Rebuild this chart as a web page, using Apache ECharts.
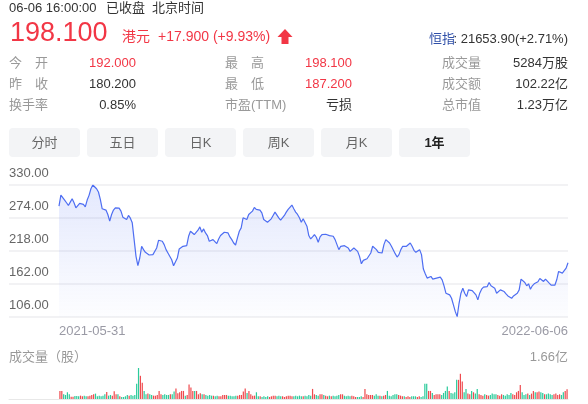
<!DOCTYPE html>
<html>
<head>
<meta charset="utf-8">
<script src="https://cdn.jsdelivr.net/npm/echarts@6/dist/echarts.min.js"></script>
<style>
  html, body { margin: 0; padding: 0; background: #fff; }
  #main { width: 588px; height: 404px; }
</style>
</head>
<body>
<div id="main"></div>
<script>
// 首尾日期
const dates = ['2021-05-31', '2022-06-06']
// 价格刻度
const yTicks = [106, 162, 218, 274, 330]
// 收盘价 (港元)
const prices = [
  294.2, 312.9, 310.1, 304.4, 299.9, 295.3, 301.0, 306.7, 299.9, 291.3, 289.6, 298.7, 301.0, 297.0, 293.0, 304.4,
  312.4, 323.7, 330.0, 327.2, 323.7, 318.1, 305.6, 289.6, 287.4, 287.4, 280.0, 268.6, 280.0, 287.4, 291.3, 289.6,
  290.8, 285.7, 275.4, 274.3, 271.4, 278.3, 273.7, 265.8, 237.3, 208.9, 193.0, 206.1, 226.0, 220.3, 215.7, 215.7,
  211.2, 210.0, 211.8, 213.5, 223.1, 236.2, 237.3, 234.5, 228.8, 220.3, 214.6, 215.7, 203.2, 193.0, 194.7, 206.1,
  221.4, 224.3, 226.0, 224.8, 227.1, 243.0, 251.5, 253.3, 245.9, 245.9, 253.3, 258.9, 249.8, 255.5, 248.7, 244.2,
  234.5, 232.8, 237.3, 235.6, 230.5, 238.5, 244.2, 247.0,
  249.8, 251.5, 248.7, 241.9, 237.3, 231.6, 228.2, 240.2, 251.5, 257.2, 274.3, 276.0, 271.4, 280.0, 282.8, 285.7,
  291.9, 288.5, 287.4, 287.4, 282.8, 271.4, 270.3, 266.9, 268.6, 272.6, 278.3, 284.0, 282.8, 274.3, 270.3, 272.6,
  278.3, 284.0, 288.5, 291.3, 295.9, 289.6, 284.0, 280.0, 274.3, 266.9, 272.6, 270.3, 260.1, 244.2, 238.5, 241.9,
  245.9, 241.3, 232.8, 241.9, 245.9, 244.2, 246.4, 247.6, 244.2, 245.9, 243.0, 237.3, 228.8, 220.3, 226.0, 228.8,
  227.1, 226.0, 223.1, 217.4, 220.3, 223.1, 223.1, 217.4, 208.9, 196.4, 202.1, 203.2, 204.9, 206.6, 214.6, 226.0,
  223.1, 220.3, 215.7, 215.7, 214.6, 228.8, 237.3, 236.2, 231.6, 226.0, 223.1,
  213.5, 207.8, 211.8, 220.3, 226.0, 224.3, 226.0, 228.8, 231.6, 226.0, 219.1, 215.7, 217.4, 220.3, 211.8, 187.3,
  179.3, 172.0, 173.7, 174.8, 170.3, 170.3, 172.0, 173.1, 173.7, 169.1, 158.9, 146.4, 143.5, 143.5, 137.8, 126.5,
  115.1, 106.6, 129.3, 146.4, 154.9, 146.4, 140.7, 152.1, 154.9, 150.9, 152.1, 143.5, 135.0, 146.4, 153.2, 156.6,
  154.9, 157.7, 164.6, 158.9, 157.7, 154.9, 146.4, 147.5, 152.1, 153.2, 149.2, 145.2, 141.8, 139.6, 137.8, 141.8,
  143.5, 146.4, 152.1, 170.3, 168.0, 164.6, 158.9, 162.3, 153.2, 158.9, 162.3, 160.6, 165.7, 171.4, 169.1, 166.3,
  170.3, 168.0, 163.4, 160.0, 158.9, 160.0, 169.1, 183.3, 186.2, 180.5, 179.3, 189.0, 198.1
]
// 成交量 (万股)
const volumes = [
  4320, 4320, 2520, 2160, 3600, 2520, 1260, 1260, 1620, 1620, 1440, 1800, 1440, 1800, 1440, 1440,
  1800, 2160, 2520, 2880, 1440, 1800, 1440, 1800, 2520, 3780, 1800, 2160, 1800, 4140, 2520, 2520,
  1440, 1080, 1080, 1440, 2160, 1800, 2160, 1800, 2160, 8100, 16600, 12420, 8640, 4320, 2520, 2880,
  2520, 2160, 1800, 1800, 2160, 4320, 2520, 2160, 2520, 2160, 2160, 2520, 2520, 3960, 5580, 3060,
  3600, 4320, 4320, 1800, 2160, 7740, 6120, 4320, 4320, 4320, 2520, 3060, 2520, 2520, 2160, 1800,
  2160, 1800, 1800, 1440, 1800, 1440, 1440, 2160, 2160, 2160, 1800, 1800, 1440, 1440, 1800, 1800,
  2160, 2160, 3960, 5580, 3240, 4320, 2520, 1800, 1800, 3600, 1440, 1440, 1080, 1440, 1080, 1440,
  1080, 1440, 1800, 1800, 1440, 1800, 1440, 1440, 1080, 1440, 1800, 1800, 1440, 1440, 1800, 1440,
  1800, 1440, 1440, 1800, 1440, 2160, 1800, 5400, 2520, 2160, 1800, 2520, 2520, 2160, 1800, 1440,
  1800, 1440, 1800, 1440, 1800, 2160, 2520, 2520, 1800, 1440, 1800, 1440, 1800, 1440, 1080, 1080,
  1080, 1440, 1080, 5400, 2520, 2160, 2160, 2160, 1800, 2520, 1800, 1800, 1440, 1800, 2160, 4320,
  1800, 1440, 2160, 2520, 2520, 2160, 1800, 1440, 1440, 1080, 1440, 1080, 1440, 1440, 1440, 1080,
  1440, 1080, 1440, 8100, 8100, 4320, 4320, 3240, 2160, 2520, 2520, 2520, 2160, 3240, 4320, 6660,
  4320, 3240, 2880, 3600, 10260, 10260, 13500, 9360, 3600, 5400, 2880, 2520, 4320, 3600, 2880, 5400,
  2520, 2160, 1800, 2520, 2160, 1800, 2160, 2880, 2520, 2520, 2160, 1800, 2520, 2160, 1800, 2520,
  2160, 3240, 2520, 2160, 3600, 4320, 7560, 3600, 2160, 2520, 2880, 2160, 2880, 4320, 3600, 3600,
  3960, 3600, 3240, 2520, 2520, 2880, 2520, 2160, 2520, 2880, 2160, 2520, 2160, 3600, 4320, 5284
]

const FONT = "'Liberation Sans', 'Noto Sans CJK SC', sans-serif"
const RED = '#f23645'
const UP = '#ef4b4f'
const DOWN = '#2ccb9b'
const GREY = '#999'
const DARK = '#333'

// 文字
function txt (x, y, text, color, size, align, weight) {
  return {
    type: 'text',
    style: {
      x: x,
      y: y,
      text: text,
      fill: color,
      font: (weight || 'normal') + ' ' + size + 'px ' + FONT,
      textAlign: align || 'left',
      textVerticalAlign: 'middle'
    }
  }
}

let graphics = [
  txt(9, 8, '06-06 16:00:00', DARK, 13),
  txt(106, 8, '已收盘', DARK, 13),
  txt(152, 8, '北京时间', DARK, 13),
  txt(10, 34, '198.100', RED, 27),
  txt(122, 37, '港元', RED, 14),
  txt(158, 37, '+17.900 (+9.93%)', RED, 14),
  {
    type: 'polygon',
    shape: { points: [[285, 29], [292.5, 37], [288.5, 37], [288.5, 44], [281.5, 44], [281.5, 37], [277.5, 37]] },
    style: { fill: RED }
  },
  txt(429, 39, '恒指', '#2f4fa8', 13),
  txt(568, 39, ': 21653.90(+2.71%)', DARK, 13, 'right'),
  // 行情
  txt(9, 63, '今　开', GREY, 13), txt(136, 63, '192.000', RED, 13, 'right'),
  txt(225, 63, '最　高', GREY, 13), txt(352, 63, '198.100', RED, 13, 'right'),
  txt(442, 63, '成交量', GREY, 13), txt(568, 63, '5284万股', DARK, 13, 'right'),
  txt(9, 84, '昨　收', GREY, 13), txt(136, 84, '180.200', DARK, 13, 'right'),
  txt(225, 84, '最　低', GREY, 13), txt(352, 84, '187.200', RED, 13, 'right'),
  txt(442, 84, '成交额', GREY, 13), txt(568, 84, '102.22亿', DARK, 13, 'right'),
  txt(9, 105, '换手率', GREY, 13), txt(136, 105, '0.85%', DARK, 13, 'right'),
  txt(225, 105, '市盈(TTM)', GREY, 13), txt(352, 105, '亏损', DARK, 13, 'right'),
  txt(442, 105, '总市值', GREY, 13), txt(568, 105, '1.23万亿', DARK, 13, 'right'),
  // 成交量标题
  txt(9, 357, '成交量（股）', GREY, 13),
  txt(568, 357, '1.66亿', GREY, 13, 'right')
]

// 切换按钮
const tabs = ['分时', '五日', '日K', '周K', '月K', '1年']
const tabX = [9, 87, 165, 243, 321, 399]
tabs.forEach((name, i) => {
  graphics.push({
    type: 'rect',
    shape: { x: tabX[i], y: 128, width: 71, height: 29, r: 4 },
    style: { fill: '#f3f4f6' }
  })
  let last = i === tabs.length - 1
  graphics.push(txt(tabX[i] + 35.5, 143, name, last ? '#222' : '#666', 13, 'center', last ? 'bold' : 'normal'))
})

let chart = echarts.init(document.getElementById('main'), null, { renderer: 'canvas' })
chart.setOption({
  animation: false,
  textStyle: { fontFamily: FONT },
  grid: [
    { left: 9, right: 20, top: 185, bottom: 87 },
    { left: 59, right: 20, top: 185, bottom: 87 },
    { left: 59, right: 20, top: 368, bottom: 5 },
    { left: 9, right: 20, top: 368, bottom: 5 }
  ],
  xAxis: [
    { gridIndex: 0, type: 'category', data: [''], show: false },
    {
      gridIndex: 1,
      type: 'category',
      boundaryGap: false,
      data: prices.map((p, i) => i === 0 ? dates[0] : (i === prices.length - 1 ? dates[1] : '')),
      axisLine: { show: false },
      axisTick: { show: false },
      axisLabel: {
        interval: 0,
        color: '#9a9aa5',
        fontSize: 13,
        margin: 8,
        alignMinLabel: 'left',
        alignMaxLabel: 'right'
      }
    },
    {
      gridIndex: 2,
      type: 'category',
      data: volumes.map((v, i) => i),
      show: false
    },
    {
      gridIndex: 3,
      type: 'category',
      data: [''],
      axisLine: { show: true, lineStyle: { color: '#e8e8e8', width: 1 } },
      axisTick: { show: false },
      axisLabel: { show: false }
    }
  ],
  yAxis: [
    {
      gridIndex: 0,
      type: 'value',
      min: yTicks[0],
      max: yTicks[yTicks.length - 1],
      axisLine: { show: false },
      axisTick: { show: false, customValues: yTicks },
      axisLabel: {
        customValues: yTicks,
        inside: true,
        margin: 0,
        color: '#666',
        fontSize: 13,
        verticalAlign: 'bottom',
        padding: [0, 0, 5, 0],
        formatter: v => v.toFixed(2)
      },
      splitLine: { show: true, lineStyle: { color: '#f2f2f4', width: 2 } }
    },
    { gridIndex: 1, type: 'value', min: yTicks[0], max: yTicks[yTicks.length - 1], show: false },
    { gridIndex: 2, type: 'value', min: 0, max: 16600, show: false },
    { gridIndex: 3, type: 'value', show: false }
  ],
  series: [
    {
      type: 'line',
      xAxisIndex: 1,
      yAxisIndex: 1,
      data: prices,
      symbol: 'none',
      smooth: false,
      lineStyle: { color: '#4e6ef2', width: 1.2 },
      areaStyle: {
        origin: 'start',
        color: new echarts.graphic.LinearGradient(0, 0, 0, 1, [
          { offset: 0, color: 'rgba(78, 110, 242, 0.22)' },
          { offset: 1, color: 'rgba(78, 110, 242, 0.02)' }
        ])
      }
    },
    {
      type: 'bar',
      xAxisIndex: 2,
      yAxisIndex: 2,
      barWidth: '65%',
      data: volumes.map((v, i) => ({
        value: v,
        itemStyle: { color: (i === 0 || prices[i] >= prices[i - 1]) ? UP : DOWN }
      }))
    }
  ],
  graphic: graphics
})
</script>
</body>
</html>
